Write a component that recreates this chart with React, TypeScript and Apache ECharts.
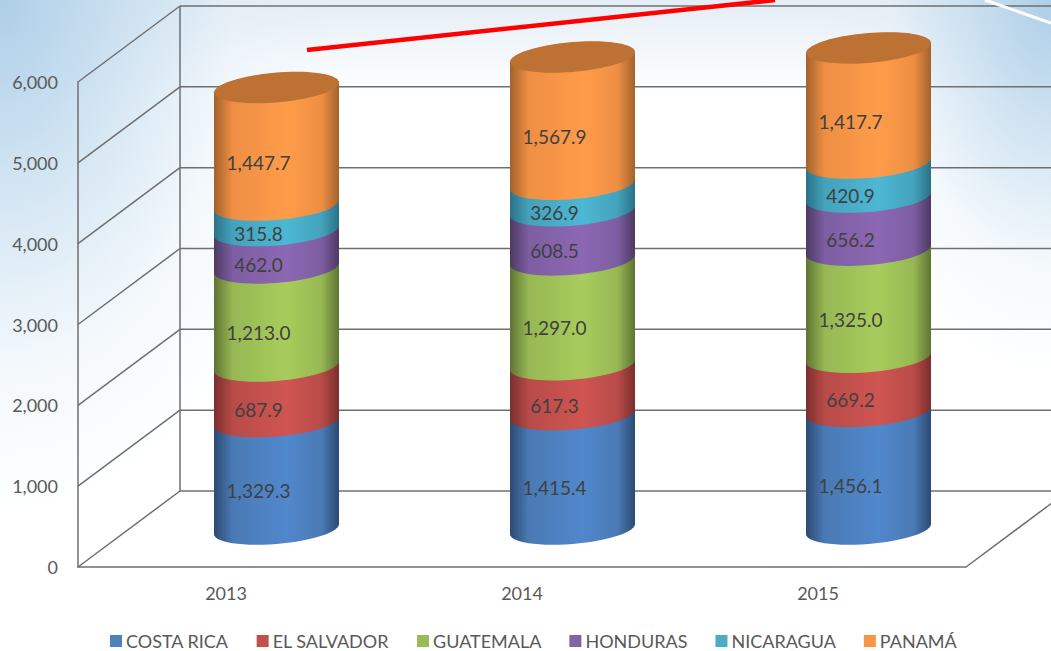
import React, { useEffect, useRef } from "react";
import * as echarts from "echarts";

const categories = ["2013", "2014", "2015"];
const costaRica = [1329.3, 1415.4, 1456.1];
const elSalvador = [687.9, 617.3, 669.2];
const guatemala = [1213.0, 1297.0, 1325.0];
const honduras = [462.0, 608.5, 656.2];
const nicaragua = [315.8, 326.9, 420.9];
const panama = [1447.7, 1567.9, 1417.7];
const ticks = [0, 1000, 2000, 3000, 4000, 5000, 6000];

const seriesNames = ["COSTA RICA", "EL SALVADOR", "GUATEMALA", "HONDURAS", "NICARAGUA", "PANAMÁ"];
const seriesValues = [costaRica, elSalvador, guatemala, honduras, nicaragua, panama];
const legendColors = ["#4f81bd", "#c0504d", "#9bbb59", "#8064a2", "#4bacc6", "#f79646"];
const shades = [
  ["#2c4a73", "#4a7ab5", "#5088cc"],
  ["#7a2f2d", "#b84b48", "#cf5552"],
  ["#5f7433", "#97b854", "#a8cc5c"],
  ["#4c3a63", "#7d5ea2", "#8c68b3"],
  ["#2a7288", "#44a2bc", "#4db8d4"],
  ["#a3622b", "#ee8f44", "#ff9c4a"],
];
const capColor = "#bd7233";

const DEPTH_X = 102;
const DEPTH_Y = 76;
const A = 62.5;
const B = 15;
const SHEAR = 5;
const FONT = "Lato, Carlito, 'Open Sans', sans-serif";
const LINE = "#6f6f6f";

function arc(cx: number, cy: number, from: number, to: number, move: boolean) {
  const n = 28;
  let d = "";
  for (let i = 0; i <= n; i++) {
    const t = from + ((to - from) * i) / n;
    const x = cx + A * Math.cos(t);
    const y = cy - SHEAR * Math.cos(t) - B * Math.sin(t);
    d += (i === 0 && move ? "M" : "L") + x.toFixed(2) + " " + y.toFixed(2) + " ";
  }
  return d;
}

function App() {
  const ref = useRef<HTMLDivElement>(null);
  useEffect(() => {
    document.body.style.margin = "0";
    const chart = echarts.init(ref.current!, null, { renderer: "svg" });

    const frame = {
      type: "custom",
      silent: true,
      z: 1,
      clip: false,
      data: ticks.map((t) => [t]),
      encode: { y: 0 },
      renderItem: (params: any, api: any) => {
        const cs = params.coordSys;
        const y = api.coord([0, api.value(0)])[1];
        const x0 = cs.x;
        const x1 = cs.x + cs.width;
        const style = { stroke: LINE, lineWidth: 1.5, fill: "none" };
        const children: any[] = [
          { type: "line", shape: { x1: x0, y1: y, x2: x0 + DEPTH_X, y2: y - DEPTH_Y }, style },
          { type: "line", shape: { x1: x0 + DEPTH_X, y1: y - DEPTH_Y, x2: x1 + DEPTH_X, y2: y - DEPTH_Y }, style },
        ];
        if (api.value(0) === 0) {
          children.push(
            { type: "line", shape: { x1: x1, y1: y, x2: x1 + DEPTH_X, y2: y - DEPTH_Y }, style },
            { type: "line", shape: { x1: x0 + DEPTH_X, y1: y - DEPTH_Y, x2: x0 + DEPTH_X, y2: cs.y - DEPTH_Y }, style }
          );
        }
        return { type: "group", children };
      },
    };

    const cylinders = seriesNames.map((name, s) => ({
      type: "custom",
      name,
      z: 2 + s,
      clip: false,
      itemStyle: { color: legendColors[s] },
      data: categories.map((_, i) => {
        let start = 0;
        for (let k = 0; k < s; k++) start += seriesValues[k][i];
        return [i, start, start + seriesValues[s][i], seriesValues[s][i]];
      }),
      encode: { x: 0, y: [1, 2] },
      renderItem: (_p: any, api: any) => {
        const idx = api.value(0);
        const lo = api.coord([idx, api.value(1)]);
        const hi = api.coord([idx, api.value(2)]);
        const cx = lo[0] + DEPTH_X / 2 - 0.5;
        const yLo = lo[1] - DEPTH_Y / 2;
        const yHi = hi[1] - DEPTH_Y / 2;
        const [dark, mid, bright] = shades[s];
        const fill = new echarts.graphic.LinearGradient(0, 0, 1, 0, [
          { offset: 0, color: dark },
          { offset: 0.15, color: mid },
          { offset: 0.58, color: bright },
          { offset: 0.86, color: mid },
          { offset: 1, color: dark },
        ]);
        const body = arc(cx, yHi, Math.PI, 0, true) + arc(cx, yLo, 0, -Math.PI, false) + "Z";
        const children: any[] = [{ type: "path", shape: { pathData: body }, style: { fill } }];
        if (s === seriesNames.length - 1) {
          children.push({
            type: "path",
            shape: { pathData: arc(cx, yHi - 0.5, 0, 2 * Math.PI, true) + "Z" },
            style: { fill: capColor },
          });
        }
        const yMid = (yLo + yHi) / 2;
        children.push({
          type: "text",
          x: cx - 18,
          y: yMid + 15.5,
          style: {
            text: api.value(3).toLocaleString("en-US", { minimumFractionDigits: 1, maximumFractionDigits: 1 }),
            fill: "#404040",
            font: "19px " + FONT,
            align: "center",
            verticalAlign: "middle",
          },
        });
        return { type: "group", children };
      },
    }));

    chart.setOption({
      animation: false,
      legend: {
        data: seriesNames,
        left: 110,
        top: 632,
        padding: 0,
        itemWidth: 12,
        itemHeight: 12,
        itemGap: 28,
        icon: "rect",
        textStyle: { color: "#595959", fontFamily: FONT, fontSize: 18, padding: [0, 0, 0, -1] },
      },
      grid: { left: 78, right: 85, top: 82, bottom: 84 },
      xAxis: {
        type: "category",
        data: categories,
        axisLine: { show: true, lineStyle: { color: LINE, width: 1.5 } },
        axisTick: { show: false },
        axisLabel: { color: "#595959", fontFamily: FONT, fontSize: 18, margin: 17 },
        splitLine: { show: false },
      },
      yAxis: {
        type: "value",
        min: 0,
        max: 6000,
        interval: 1000,
        axisLine: { show: true, lineStyle: { color: LINE, width: 1.5 } },
        axisTick: { show: false },
        axisLabel: {
          color: "#595959",
          fontFamily: FONT,
          fontSize: 18,
          margin: 20,
          formatter: (v: number) => v.toLocaleString("en-US"),
        },
        splitLine: { show: false },
      },
      graphic: [
        { type: "line", silent: true, z: 20, shape: { x1: 307, y1: 50, x2: 775, y2: 0 }, style: { stroke: "#ff0000", lineWidth: 4.5 } },
        { type: "line", silent: true, z: 20, shape: { x1: 985, y1: 0, x2: 1051, y2: 23 }, style: { stroke: "#ffffff", lineWidth: 3 } },
      ],
      series: [frame, ...cylinders],
    });
    return () => chart.dispose();
  }, []);
  return (
    <div
      ref={ref}
      style={{
        width: 1051,
        height: 651,
        background: [
          "radial-gradient(ellipse 330px 520px at 0 0, #aecfe8 0%, rgba(190,217,237,0.7) 35%, rgba(225,238,247,0.4) 70%, rgba(255,255,255,0) 100%)",
          "radial-gradient(ellipse 230px 380px at 100% 0, #aecfe8 0%, rgba(190,217,237,0.7) 35%, rgba(225,238,247,0.35) 70%, rgba(255,255,255,0) 100%)",
          "linear-gradient(to bottom, #e4edf5 0px, #f6f9fc 60px, #ffffff 100px)",
        ].join(", "),
      }}
    />
  );
}

export default App;
